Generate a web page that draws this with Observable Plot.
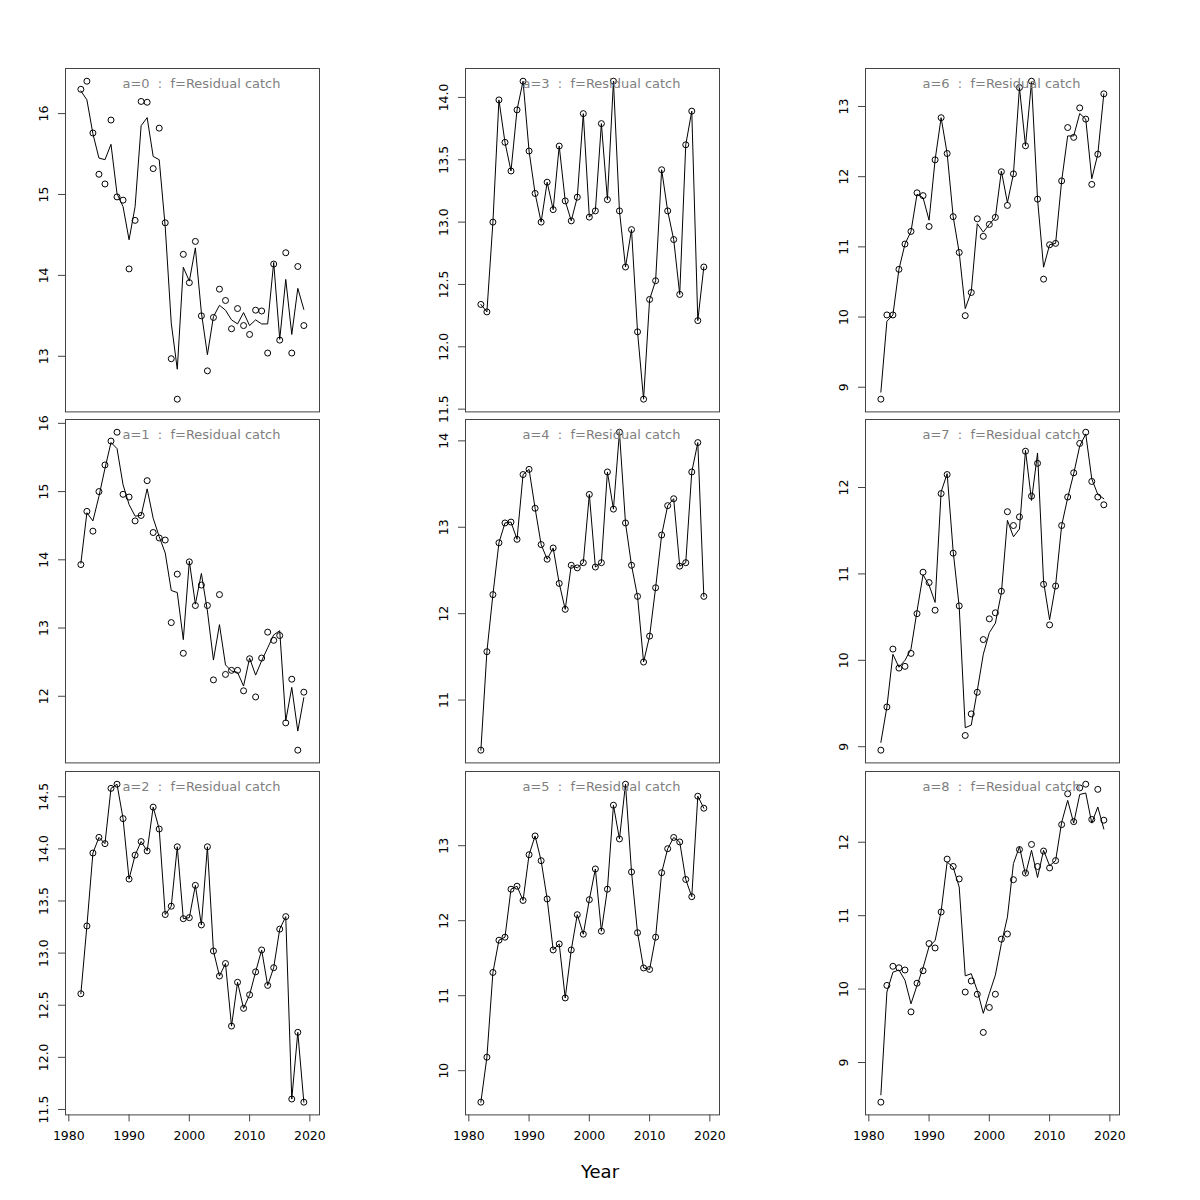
<!DOCTYPE html>
<html><head><meta charset="utf-8">
<script src="https://cdn.jsdelivr.net/npm/d3@7"></script>
<script src="https://cdn.jsdelivr.net/npm/@observablehq/plot@0.6"></script>
<style>
body{margin:0;background:#fff;font-family:"DejaVu Sans",sans-serif;}
#root{position:relative;width:1200px;height:1200px;background:#fff;}
.panel{position:absolute;}
#xlabel{position:absolute;left:0;width:1200px;text-align:center;top:1160px;font-size:18px;line-height:24px;font-family:"DejaVu Sans",sans-serif;color:#000;}
</style></head><body><div id="root"></div><script>
const years = [1982,1983,1984,1985,1986,1987,1988,1989,1990,1991,1992,1993,1994,1995,1996,1997,1998,1999,2000,2001,2002,2003,2004,2005,2006,2007,2008,2009,2010,2011,2012,2013,2014,2015,2016,2017,2018,2019];
const xTicks = [1980,1990,2000,2010,2020];
const ages = [0,1,2,3,4,5,6,7,8];
const fleet = "Residual catch";

const obs0 = [16.30,16.40,15.76,15.25,15.13,15.92,14.97,14.93,14.08,14.68,16.15,16.14,15.32,15.82,14.65,12.97,12.47,14.26,13.91,14.42,13.50,12.82,13.48,13.83,13.69,13.34,13.59,13.38,13.27,13.57,13.56,13.04,14.14,13.20,14.28,13.04,14.11,13.38];
const fit0 = [16.28,16.17,15.75,15.45,15.43,15.62,15.01,14.85,14.44,14.85,15.85,15.95,15.47,15.43,14.60,13.41,12.84,14.10,13.93,14.34,13.54,13.02,13.49,13.63,13.57,13.45,13.40,13.54,13.38,13.45,13.40,13.40,14.16,13.21,13.95,13.27,13.84,13.58];
const obs1 = [13.93,14.71,14.42,15.00,15.39,15.74,15.87,14.96,14.92,14.57,14.65,15.16,14.40,14.32,14.29,13.08,13.79,12.63,13.97,13.33,13.63,13.33,12.24,13.49,12.32,12.38,12.38,12.08,12.55,11.99,12.56,12.94,12.82,12.89,11.61,12.25,11.21,12.06];
const fit1 = [13.95,14.69,14.57,14.93,15.34,15.72,15.63,15.10,14.81,14.64,14.65,15.04,14.61,14.34,14.10,13.55,13.52,12.83,13.98,13.35,13.80,13.25,12.53,13.05,12.46,12.37,12.35,12.15,12.56,12.31,12.52,12.71,12.90,12.96,11.64,12.13,11.49,11.98];
const obs2 = [12.61,13.26,13.96,14.11,14.05,14.58,14.62,14.29,13.71,13.94,14.07,13.98,14.40,14.19,13.37,13.45,14.02,13.33,13.34,13.65,13.27,14.02,13.02,12.78,12.90,12.30,12.72,12.47,12.60,12.82,13.03,12.69,12.86,13.23,13.35,11.60,12.24,11.57];
const fit2 = obs2;
const obs3 = [12.34,12.28,13.00,13.98,13.64,13.41,13.90,14.13,13.57,13.23,13.00,13.32,13.10,13.61,13.17,13.01,13.20,13.87,13.04,13.09,13.79,13.18,14.13,13.09,12.64,12.94,12.12,11.58,12.38,12.53,13.42,13.09,12.86,12.42,13.62,13.89,12.21,12.64];
const fit3 = obs3;
const obs4 = [10.42,11.56,12.22,12.82,13.05,13.06,12.86,13.61,13.67,13.22,12.80,12.63,12.76,12.35,12.05,12.56,12.53,12.59,13.38,12.54,12.59,13.64,13.21,14.10,13.05,12.56,12.20,11.44,11.74,12.30,12.91,13.25,13.33,12.55,12.59,13.64,13.98,12.20];
const fit4 = obs4;
const obs5 = [9.58,10.18,11.31,11.74,11.78,12.42,12.46,12.27,12.88,13.13,12.80,12.29,11.61,11.69,10.97,11.61,12.08,11.82,12.28,12.69,11.86,12.42,13.54,13.09,13.82,12.65,11.84,11.37,11.35,11.78,12.64,12.96,13.11,13.05,12.55,12.32,13.66,13.50];
const fit5 = obs5;
const obs6 = [8.83,10.03,10.03,10.68,11.04,11.22,11.77,11.73,11.29,12.24,12.84,12.33,11.43,10.92,10.02,10.35,11.40,11.15,11.32,11.42,12.07,11.59,12.04,13.27,12.44,13.36,11.68,10.54,11.03,11.05,11.94,12.70,12.56,12.98,12.82,11.89,12.32,13.18];
const fit6 = [8.93,9.94,10.03,10.68,11.04,11.22,11.75,11.70,11.38,12.24,12.84,12.33,11.43,10.92,10.12,10.36,11.33,11.21,11.32,11.42,12.08,11.63,12.04,13.27,12.44,13.35,11.68,10.71,11.03,11.05,11.94,12.58,12.58,12.90,12.82,11.97,12.32,13.18];
const obs7 = [8.96,9.46,10.13,9.91,9.93,10.08,10.54,11.02,10.90,10.58,11.93,12.15,11.24,10.63,9.13,9.38,9.63,10.24,10.48,10.55,10.80,11.72,11.56,11.66,12.42,11.90,12.28,10.88,10.41,10.86,11.56,11.89,12.17,12.51,12.64,12.07,11.89,11.80];
const fit7 = [9.05,9.46,10.07,9.92,10.00,10.13,10.57,10.99,10.87,10.67,11.95,12.16,11.26,10.62,9.22,9.25,9.65,10.07,10.32,10.43,10.78,11.62,11.43,11.52,12.43,11.85,12.40,10.91,10.47,10.87,11.56,11.88,12.16,12.48,12.62,12.10,11.92,11.87];
const obs8 = [8.46,10.05,10.31,10.29,10.26,9.69,10.08,10.25,10.62,10.56,11.05,11.77,11.67,11.50,9.96,10.11,9.93,9.41,9.75,9.93,10.68,10.75,11.49,11.90,11.58,11.97,11.67,11.88,11.65,11.75,12.24,12.66,12.28,12.74,12.79,12.31,12.72,12.30];
const fit8 = [8.56,9.96,10.23,10.26,10.12,9.80,10.05,10.29,10.58,10.66,11.06,11.73,11.66,11.39,10.18,10.21,9.98,9.67,9.94,10.19,10.62,10.98,11.71,11.94,11.56,11.89,11.52,11.89,11.68,11.75,12.27,12.57,12.26,12.65,12.67,12.26,12.48,12.18];

const obsAll = [obs0,obs1,obs2,obs3,obs4,obs5,obs6,obs7,obs8];
const fitAll = [fit0,fit1,fit2,fit3,fit4,fit5,fit6,fit7,fit8];

// layout
const colLeft = [65, 465, 865];
const rowTop = [68.3, 419.3, 770.7];
const W = 254, H = 343.4;
const mL = 52, mR = 12, mT = 6;
const root = document.getElementById("root");

ages.forEach((a, k) => {
  const col = Math.floor(k / 3), row = k % 3;
  const obs = obsAll[k], fit = fitAll[k];
  const all = obs.concat(fit);
  const lo = d3.min(all), hi = d3.max(all), pad = (hi - lo) * 0.04;
  const yDom = [lo - pad, hi + pad];
  const yt = d3.ticks(yDom[0], yDom[1], 5);
  const step = yt[1] - yt[0];
  const fmt = step < 1 ? d3.format(".1f") : d3.format("d");
  const bottom = row === 2;
  const mB = bottom ? 42 : 6;
  const obsData = years.map((y, i) => ({year: y, v: obs[i]}));
  const fitData = years.map((y, i) => ({year: y, v: fit[i]}));
  const title = `a=${a}\u00a0\u00a0:\u00a0\u00a0f=${fleet}`;
  const marks = [
    Plot.axisY(yt, {anchor: "left", tickSize: 7, tickRotate: -90, tickPadding: 11, tickFormat: fmt, label: null, stroke: "#444", fill: "#000", fontSize: 12.5}),
    Plot.line(fitData, {x: "year", y: "v", stroke: "#000", strokeWidth: 1}),
    Plot.dot(obsData, {x: "year", y: "v", r: 3, stroke: "#000", fill: "none", strokeWidth: 1}),
    Plot.text([title], {frameAnchor: "top-left", dx: 57, dy: 15, textAnchor: "start", lineAnchor: "middle", fill: "#7f7f7f", fontSize: 13}),
    Plot.frame({stroke: "#444", strokeWidth: 1})
  ];
  if (bottom) {
    marks.push(Plot.axisX(xTicks, {anchor: "bottom", tickSize: 7, tickPadding: 9, tickFormat: "d", label: null, stroke: "#444", fill: "#000", fontSize: 12.5}));
  }
  const chart = Plot.plot({
    width: mL + W + mR, height: mT + H + mB,
    marginLeft: mL, marginRight: mR, marginTop: mT, marginBottom: mB,
    x: {domain: [1979.45, 2021.6], axis: bottom ? undefined : null},
    y: {domain: yDom},
    style: {background: "transparent", overflow: "visible", fontFamily: "DejaVu Sans", fontSize: "12.5px", color: "#000"},
    marks
  });
  const div = document.createElement("div");
  div.className = "panel";
  div.style.left = (colLeft[col] - mL) + "px";
  div.style.top = (rowTop[row] - mT) + "px";
  div.appendChild(chart);
  root.appendChild(div);
});

const xl = document.createElement("div");
xl.id = "xlabel";
xl.textContent = "Year";
root.appendChild(xl);
</script></body></html>
